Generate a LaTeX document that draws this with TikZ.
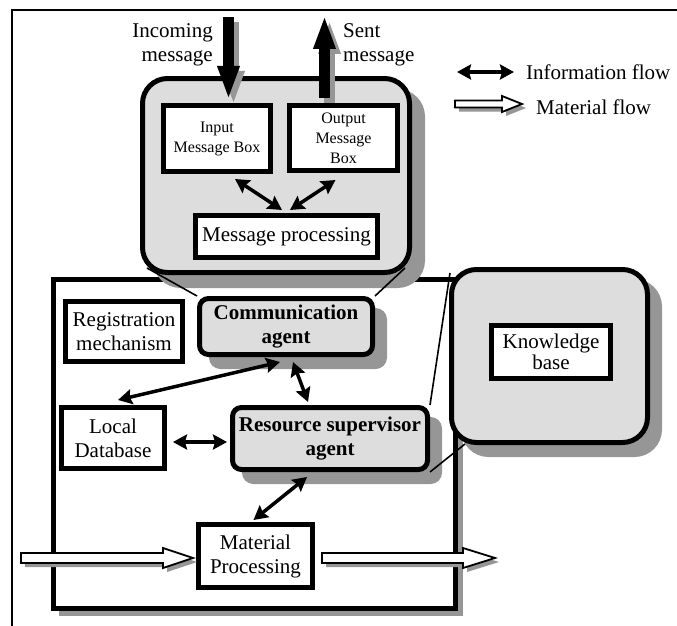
\documentclass[tikz,border=0pt]{standalone}
\usepackage{fontspec}
\setmainfont{Liberation Serif}
\usetikzlibrary{arrows.meta,calc,positioning,backgrounds}
\definecolor{BoxGray}{RGB}{221,221,221}
\definecolor{ShadeGray}{RGB}{150,150,150}
\newcommand{\agfont}{\fontsize{21}{24}\selectfont}
\newcommand{\agsmallfont}{\fontsize{16}{20}\selectfont}
\tikzset{
  agbox/.style={draw=black, line width=5pt, fill=white, align=center, font=\agfont, inner sep=0pt},
  agsmall/.style={agbox, font=\agsmallfont},
  agshade/.style={preaction={draw=ShadeGray, fill=ShadeGray, line width=5pt, transform canvas={shift={(#1pt,-#1pt)}}}},
  agagent/.style={agbox, fill=BoxGray, rounded corners=9pt, font=\agfont\bfseries, agshade=12},
  agpanel/.style={draw=black, line width=5pt, fill=BoxGray, rounded corners=25pt, agshade=#1},
  agline/.style={line width=1.6pt, draw=black},
  agflow/.style={{Stealth[length=14pt,width=15pt,inset=2pt]}-{Stealth[length=14pt,width=15pt,inset=2pt]}, line width=3.5pt},
  agbig/.style={-{Triangle[length=34pt,width=20pt]}, line width=11pt},
  mfshade/.style={fill=ShadeGray},
  mfbody/.style={fill=white, draw=black, line width=1.8pt, line join=miter},
  aglab/.style={font=\agfont, inner sep=0pt}
}
\newcommand{\MFArrow}[5]{%
  \fill[mfshade] ($(#1)+(4,4-#3)$) -- ($(#2)+(4-#5,4-#3)$) -- ($(#2)+(4-#5,4-#4)$) -- ($(#2)+(4,4)$)
    -- ($(#2)+(4-#5,4+#4)$) -- ($(#2)+(4-#5,4+#3)$) -- ($(#1)+(4,4+#3)$) -- cycle;
  \draw[mfbody] ($(#1)+(0,-#3)$) -- ($(#2)+(-#5,-#3)$) -- ($(#2)+(-#5,-#4)$) -- (#2)
    -- ($(#2)+(-#5,#4)$) -- ($(#2)+(-#5,#3)$) -- ($(#1)+(0,#3)$) -- cycle;
}

\begin{document}
\begin{tikzpicture}[x=1pt,y=-1pt]
  \useasboundingbox (0,0) rectangle (677,626);
  \node[agpanel=13, minimum width=267pt, minimum height=194pt] (msgh) at (276,175.5) {};
  \node[agpanel=12, minimum width=196pt, minimum height=173pt] (kb) at (549.5,356) {};
  \node[agsmall, minimum width=107pt, minimum height=66pt] (inp) at (217,138.5) {Input\\Message Box};
  \node[agsmall, minimum width=108pt, minimum height=65pt] (outp) at (343.5,138) {Output\\Message\\Box};
  \node[agbox, minimum width=182pt, minimum height=42pt] (mproc) at (286.5,236.5) {Message processing};
  \node[agbox, minimum width=117pt, minimum height=60pt] (reg) at (124,331.5) {Registration\\mechanism};
  \node[agagent, minimum width=173pt, minimum height=56pt] (comm) at (286,326.5) {Communication\\agent};
  \node[agbox, minimum width=103pt, minimum height=61pt] (ldb) at (113,438) {Local\\Database};
  \node[agagent, minimum width=195pt, minimum height=62pt] (rsa) at (330,438.5) {Resource supervisor\\agent};
  \node[agbox, minimum width=114pt, minimum height=63pt] (mp) at (255.5,556) {Material\\Processing};
  \node[agbox, minimum width=119pt, minimum height=53pt, font=\fontsize{21}{21}\selectfont] (kbin) at (551,352) {Knowledge\\base};

  \begin{scope}[on background layer]
    \draw[line width=1.5pt] (12,628) |- (679,10);
    \draw[ShadeGray, line width=5pt] (460.5,284.5) -- (460.5,613.5) -- (58.5,613.5);
    \draw[line width=5pt] (53.5,279.5) rectangle (455.5,608.5);
  \end{scope}
  \draw[agline] ($(msgh.south west)+(7,-7)$) -- (comm.north west);
  \draw[agline] ($(msgh.south east)+(-7,-7)$) -- (comm.north east);
  \draw[agline] ($(kb.north west)+(1,6)$) -- (rsa.north east);
  \draw[agline] ($(kb.south west)+(16,-1)$) -- (rsa.south east);

  \coordinate (msgin) at (228.5,17);
  \coordinate (msgout) at (324.5,15);
  \foreach \sh/\col in {5/ShadeGray,0/black}{%
    \draw[agbig, draw=\col, transform canvas={shift={(\sh pt,-\sh pt)}}] (msgin) -- ($(msgin |- inp.north)+(0,-3)$);
    \draw[agbig, draw=\col, transform canvas={shift={(\sh pt,-\sh pt)}}] ($(msgout |- outp.north)+(0,-5)$) -- (msgout);
  }
  \node[aglab, anchor=east, align=right] (inlab) at (213,45) {Incoming\\message};
  \node[aglab, anchor=west, align=left] (outlab) at (343,45) {Sent\\message};

  \draw[agflow] ($(inp.south)+(18,5)$) -- ($(mproc.north)+(-4.5,-3)$);
  \draw[agflow] ($(outp.south)+(-8,7)$) -- ($(mproc.north)+(3.5,-3)$);
  \draw[agflow] ($(comm.south)+(-6,5)$) -- ($(ldb.north)+(5,-5)$);
  \draw[agflow] ($(comm.south)+(7,5)$) -- ($(rsa.north)+(-22,-3)$);
  \draw[agflow] ($(ldb.east)+(6,4)$) -- ($(rsa.west)+(-3,3.5)$);
  \draw[agflow] ($(rsa.south)+(-23,5)$) -- ($(mp.north)+(-2,-2)$);

  \coordinate (matin) at (21,558);
  \coordinate (mpin) at ($(mp.west)+(-3,2)$);
  \coordinate (mpout) at ($(mp.east)+(7,2)$);
  \coordinate (matout) at (495,558);
  \MFArrow{matin}{mpin}{5}{10}{30}
  \MFArrow{mpout}{matout}{5}{10}{32}

  \coordinate (infoa) at (457,72);
  \coordinate (infob) at (514,72);
  \draw[agflow] (infoa) -- (infob);
  \node[aglab, anchor=west] (infolab) at (526,72) {Information flow};
  \coordinate (mata) at (455,104);
  \coordinate (matb) at (522,104);
  \MFArrow{mata}{matb}{3.5}{8}{20}
  \node[aglab, anchor=west] (matlab) at (536,107) {Material flow};
\end{tikzpicture}
\end{document}
